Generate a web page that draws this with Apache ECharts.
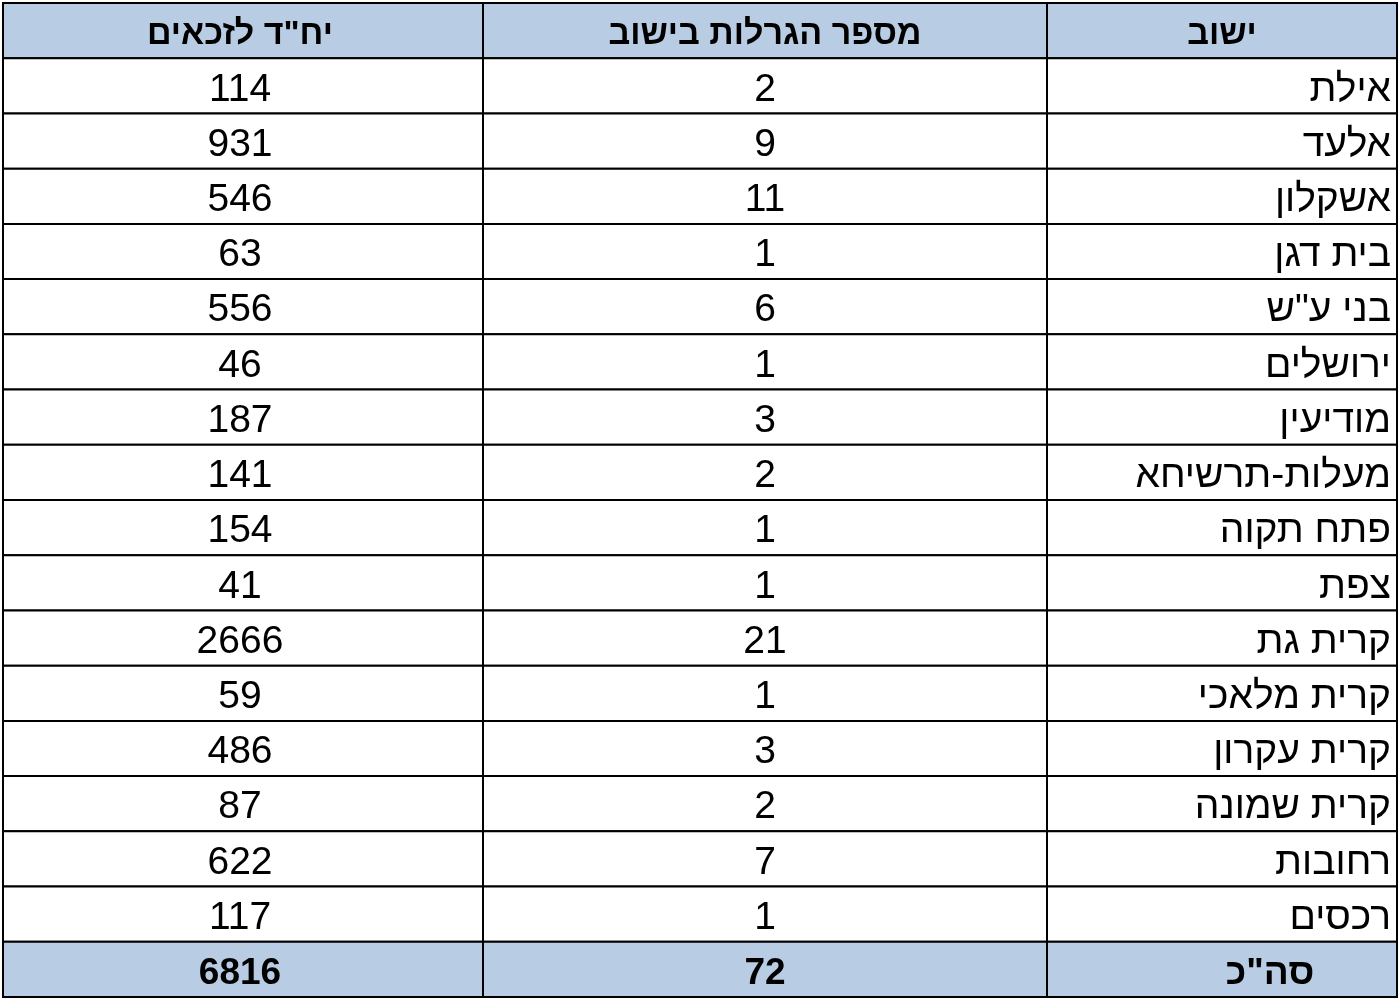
<!DOCTYPE html>
<html><head><meta charset="utf-8">
<script src="https://cdn.jsdelivr.net/npm/echarts@6/dist/echarts.min.js"></script>
<style>html,body{margin:0;padding:0;background:#fff}#c{width:1400px;height:1002px}</style>
</head><body><div id="c"></div>
<script>
const headers = ['יח"ד לזכאים', 'מספר הגרלות בישוב', 'ישוב'];
const towns = ['אילת','אלעד','אשקלון','בית דגן','בני ע"ש','ירושלים','מודיעין','מעלות-תרשיחא','פתח תקוה','צפת','קרית גת','קרית מלאכי','קרית עקרון','קרית שמונה','רחובות','רכסים'];
const lotteries = [2,9,11,1,6,1,3,2,1,1,21,1,3,2,7,1];
const units = [114,931,546,63,556,46,187,141,154,41,2666,59,486,87,622,117];
const totalLabel = 'סה"כ';
const totalLotteries = 72;
const totalUnits = 6816;

const rows = ['h'].concat(towns.map((t,i)=>'r'+i)).concat(['t']);
const cells = [];
headers.forEach((h,c)=>cells.push([c,0,h,'head']));
towns.forEach((t,i)=>{
  cells.push([0,i+1,String(units[i]),'body']);
  cells.push([1,i+1,String(lotteries[i]),'body']);
  cells.push([2,i+1,t,'name']);
});
cells.push([0,rows.length-1,String(totalUnits),'total']);
cells.push([1,rows.length-1,String(totalLotteries),'total']);
cells.push([2,rows.length-1,totalLabel,'totalname']);

const edges = [0,480,1044,1394];
const chart = echarts.init(document.getElementById('c'));
chart.setOption({
  animation:false,
  grid:{left:3,right:3,top:3,bottom:5},
  xAxis:{type:'value',min:0,max:1394,show:false},
  yAxis:{type:'category',data:rows,inverse:true,show:false},
  series:[{
    type:'custom',
    data:cells,
    renderItem:function(params,api){
      const c=api.value(0), r=api.value(1);
      const d=cells[params.dataIndex];
      const kind=d[3];
      const p0=api.coord([edges[c],r]), p1=api.coord([edges[c+1],r]);
      const h=api.size([0,1])[1];
      const x=p0[0], w=p1[0]-p0[0], y=p0[1]-h/2;
      const shaded = kind==='head'||kind==='total'||kind==='totalname';
      const isName = kind==='name';
      const font = kind==='head' ? 'bold 34px' : (shaded ? 'bold 37px' : '39px');
      return {type:'group',children:[
        {type:'rect',shape:{x:x,y:y,width:w,height:h},
         style:{fill:shaded?'#b8cce4':'#ffffff',stroke:'#000',lineWidth:2}},
        {type:'text',style:{
          text:d[2],
          x:isName?x+w-6:(kind==='totalname'?x+w/2+48:(c===0?x+w/2-3:x+w/2)),
          y:y+h/2+4,
          align:isName?'right':'center',verticalAlign:'middle',
          font:font+' "Liberation Sans", Arial, sans-serif',
          fill:'#000'}}
      ]};
    }
  }]
});
</script></body></html>
